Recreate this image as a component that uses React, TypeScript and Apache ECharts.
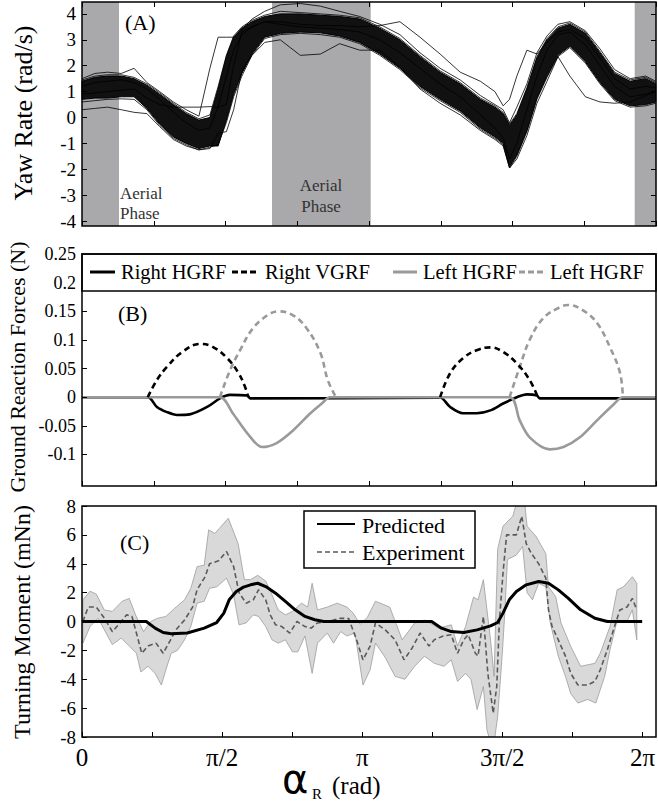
import React, { useEffect, useRef } from "react";
import * as echarts from "echarts";

type P = [number, number];

const SERIF = "'Liberation Serif', 'Times New Roman', serif";

// ---------- shared x axis (alpha_R, rad) ----------
const X_TICK_STEPS_PI = [0, 0.25, 0.5, 0.75, 1, 1.25, 1.5, 1.75, 2];
const X_LABEL_STEPS_PI = [0, 0.5, 1, 1.5, 2];
const X_LABELS = ["0", "π/2", "π", "3π/2", "2π"];

// ---------- Panel A : yaw rate ----------
const A_Y_MIN = -4.19;
const A_Y_MAX = 4.46;
const A_Y_TICKS = [-4, -3, -2, -1, 0, 1, 2, 3, 4];
const A_AERIAL: P[] = [[0, 0.405], [2.08, 3.16], [6.05, 6.2832]];
const A_X = [0, 0.14, 0.28, 0.43, 0.57, 0.71, 0.85, 1.0, 1.14, 1.28, 1.4, 1.49, 1.58, 1.66, 1.75, 1.86, 2.0, 2.17, 2.39, 2.61, 2.82, 3.04, 3.26, 3.48, 3.7, 3.92, 4.14, 4.36, 4.52, 4.61, 4.68, 4.76, 4.87, 4.98, 5.09, 5.21, 5.34, 5.51, 5.67, 5.83, 6.0, 6.17, 6.28];
const A_CORE_LOW = [0.7, 0.75, 0.75, 0.8, 0.8, 0.35, -0.25, -0.75, -1.0, -1.2, -1.1, -1.1, -0.1, 0.9, 1.7, 2.45, 3.1, 3.25, 3.3, 3.27, 3.15, 2.9, 2.45, 1.9, 1.2, 0.7, 0.25, -0.4, -0.75, -1.0, -1.9, -1.45, -0.5, 0.75, 1.6, 2.4, 2.75, 2.15, 1.35, 0.7, 0.45, 0.5, 0.6];
const A_CORE_HIGH = [1.4, 1.55, 1.6, 1.6, 1.5, 1.25, 0.9, 0.5, 0.15, -0.1, 0.0, 1.1, 2.35, 3.1, 3.45, 3.7, 3.9, 4.0, 4.0, 3.95, 3.9, 3.8, 3.45, 3.0, 2.35, 1.75, 1.3, 0.7, 0.4, 0.15, -0.3, 0.1, 1.1, 2.3, 3.0, 3.45, 3.6, 3.25, 2.5, 1.7, 1.4, 1.5, 1.3];
const A_TRACE_1 = [1.5, 1.7, 1.75, 1.7, 1.9, 1.35, 1.0, 0.6, 0.3, 0.05, 1.9, 3.1, 3.1, 3.1, 3.4, 3.8, 4.1, 4.35, 4.4, 4.3, 4.1, 3.9, 3.6, 3.2, 2.5, 1.9, 1.45, 0.85, 0.5, 0.3, -0.2, 0.4, 1.3, 2.5, 3.15, 3.6, 3.7, 3.35, 2.65, 1.85, 1.5, 1.6, 1.4];
const A_TRACE_2 = [0.3, 0.35, 0.4, 0.3, 0.2, 0.15, -0.35, -0.85, -1.1, -1.25, -1.2, -0.6, -0.55, 0.3, 1.8, 2.4, 2.9, 3.0, 2.4, 2.45, 2.85, 2.6, 2.6, 1.95, 1.1, 0.55, 0.1, -0.5, -0.85, -1.1, -1.95, -1.6, -0.7, 0.55, 1.4, 2.35, 1.6, 0.8, 0.6, 0.55, 0.6, 0.85, 1.0];
const A_TRACE_3 = [0.9, 0.95, 1.0, 1.05, 1.1, 0.75, 0.5, 0.4, 0.4, 0.4, 0.42, 0.4, 0.5, 2.0, 3.3, 3.5, 3.7, 3.6, 3.5, 3.45, 3.4, 3.3, 3.0, 2.5, 1.9, 1.3, 0.8, 0.1, -0.4, -0.8, -1.6, -1.0, 0.3, 1.6, 2.6, 3.2, 3.3, 2.8, 2.0, 1.2, 0.8, 0.9, 1.0];
const A_TRACE_4 = [1.2, 1.35, 1.4, 1.45, 1.35, 1.1, 0.7, 0.2, -0.2, -0.5, -0.4, 0.4, 1.6, 2.6, 3.2, 3.5, 3.7, 3.7, 3.6, 3.55, 3.55, 3.5, 3.55, 3.7, 3.1, 2.45, 1.75, 1.4, 1.0, 0.45, 0.7, 1.6, 2.6, 2.45, 2.9, 3.3, 3.4, 3.05, 2.3, 1.5, 1.1, 1.2, 1.15];
const A_TRACE_5 = [1.45, 1.6, 1.65, 1.65, 1.55, 1.3, 0.95, 0.55, 0.2, -0.05, 0.1, 1.2, 2.4, 3.15, 3.5, 3.75, 3.95, 4.1, 4.05, 4.0, 3.95, 3.85, 3.5, 3.05, 2.4, 1.8, 1.35, 0.75, 0.45, 0.2, -0.25, 0.15, 1.15, 2.35, 3.05, 3.5, 3.65, 3.3, 2.55, 1.75, 1.45, 1.55, 1.35];
const A_TRACE_6 = [0.6, 0.65, 0.7, 0.72, 0.7, 0.3, -0.3, -0.8, -1.05, -1.25, -1.15, -1.05, -0.2, 0.8, 1.6, 2.4, 3.05, 3.2, 3.25, 3.2, 3.1, 2.85, 2.4, 1.85, 1.15, 0.65, 0.2, -0.45, -0.8, -1.05, -1.95, -1.5, -0.55, 0.7, 1.55, 2.35, 2.7, 2.1, 1.3, 0.65, 0.4, 0.45, 0.55];
const A_TRACES = [A_TRACE_1, A_TRACE_2, A_TRACE_3, A_TRACE_4, A_TRACE_5, A_TRACE_6];

// ---------- Panel B : ground reaction forces ----------
const B_Y_MIN = -0.155;
const B_Y_MAX = 0.25;
const B_Y_TICKS = [-0.1, -0.05, 0, 0.05, 0.1, 0.15, 0.2, 0.25];
const B_RIGHT_HGRF: P[] = [[0, 0], [0.72, 0], [0.82, -0.017], [0.93, -0.026], [1.04, -0.031], [1.18, -0.03], [1.37, -0.017], [1.51, -0.002], [1.62, 0.004], [1.81, 0.003], [1.84, -0.002], [3.9, -0.001], [3.92, 0], [4.03, -0.017], [4.17, -0.028], [4.32, -0.028], [4.47, -0.023], [4.61, -0.011], [4.76, 0], [4.87, 0.005], [4.98, 0.003], [5.01, -0.002], [6.28, -0.002]];
const B_RIGHT_VGRF_1: P[] = [[0.72, 0], [0.82, 0.03], [0.93, 0.053], [1.09, 0.078], [1.29, 0.093], [1.43, 0.088], [1.59, 0.068], [1.71, 0.043], [1.78, 0.02], [1.82, 0]];
const B_RIGHT_VGRF_2: P[] = [[3.92, 0], [4.03, 0.042], [4.17, 0.068], [4.32, 0.082], [4.47, 0.087], [4.61, 0.079], [4.76, 0.059], [4.9, 0.03], [4.99, 0]];
const B_LEFT_HGRF: P[] = [[0, 0], [1.51, 0], [1.65, -0.028], [1.81, -0.063], [1.97, -0.087], [2.13, -0.08], [2.31, -0.058], [2.5, -0.028], [2.64, -0.009], [2.71, 0], [4.68, 0], [4.79, -0.04], [4.9, -0.07], [5.12, -0.091], [5.27, -0.087], [5.45, -0.07], [5.64, -0.04], [5.81, -0.014], [5.92, 0], [6.28, 0]];
const B_LEFT_VGRF_1: P[] = [[1.51, 0], [1.62, 0.047], [1.73, 0.082], [1.87, 0.12], [2.03, 0.143], [2.15, 0.15], [2.31, 0.143], [2.46, 0.12], [2.61, 0.077], [2.69, 0.03], [2.78, 0]];
const B_LEFT_VGRF_2: P[] = [[4.68, 0], [4.79, 0.052], [4.9, 0.1], [5.05, 0.138], [5.23, 0.157], [5.32, 0.161], [5.48, 0.152], [5.64, 0.129], [5.78, 0.087], [5.89, 0.042], [5.92, 0]];
const B_LEGEND = ["Right HGRF", "Right VGRF", "Left HGRF", "Left HGRF"];

// ---------- Panel C : turning moment ----------
const C_Y_TICKS = [-8, -6, -4, -2, 0, 2, 4, 6, 8];
const C_PREDICTED: P[] = [[0, 0], [0.72, 0], [0.82, -0.46], [0.91, -0.76], [1.0, -0.85], [1.18, -0.8], [1.37, -0.46], [1.51, -0.07], [1.59, 0.58], [1.65, 1.5], [1.73, 2.08], [1.81, 2.38], [1.89, 2.54], [1.97, 2.65], [2.06, 2.42], [2.17, 1.96], [2.28, 1.39], [2.39, 0.81], [2.5, 0.35], [2.61, 0.12], [2.71, 0], [3.92, 0], [4.03, -0.46], [4.14, -0.7], [4.28, -0.76], [4.43, -0.58], [4.58, -0.3], [4.66, -0.07], [4.72, 0.58], [4.79, 1.5], [4.87, 2.08], [4.98, 2.54], [5.12, 2.77], [5.23, 2.65], [5.34, 2.19], [5.45, 1.62], [5.59, 0.81], [5.75, 0.23], [5.89, 0], [6.28, 0]];
const C_EXP_MEAN: P[] = [[0.01, 0.0], [0.07, 1.0], [0.16, 1.0], [0.25, 0.23], [0.34, -0.7], [0.44, 0], [0.5, 0.46], [0.56, 0.35], [0.61, -0.8], [0.67, -2.2], [0.74, -1.7], [0.83, -1.5], [0.91, -2.2], [0.99, -1.3], [1.05, -0.6], [1.15, 0.1], [1.24, 1.0], [1.29, 2.2], [1.38, 3.1], [1.43, 4.0], [1.53, 4.2], [1.62, 4.85], [1.7, 3.8], [1.76, 2.0], [1.84, 1.27], [1.92, 1.5], [1.98, 2.2], [2.06, 1.5], [2.11, 0.46], [2.17, -0.23], [2.24, -0.35], [2.33, -0.8], [2.41, 0.0], [2.5, -0.35], [2.57, -0.46], [2.64, -0.1], [2.75, 0], [2.82, 0.1], [2.9, 0.23], [2.99, 0.2], [3.08, -1.3], [3.15, -2.65], [3.23, -1.7], [3.29, -0.1], [3.4, -0.58], [3.51, -1.27], [3.61, -2.65], [3.7, -1.85], [3.79, -0.8], [3.89, -1.7], [3.95, -1.27], [4.05, -1.0], [4.14, -0.92], [4.21, -2.2], [4.28, -1.27], [4.33, -0.92], [4.41, -2.2], [4.44, -2.4], [4.5, 0.35], [4.55, -3.6], [4.61, -6.35], [4.65, -4.5], [4.68, 0.1], [4.72, 3.35], [4.76, 6.0], [4.87, 6.0], [4.93, 7.3], [4.98, 5.4], [5.04, 4.7], [5.12, 4.0], [5.2, 3.0], [5.23, 0.8], [5.27, -0.35], [5.34, -1.27], [5.42, -2.4], [5.48, -3.6], [5.56, -4.4], [5.67, -4.4], [5.75, -4.15], [5.81, -3.35], [5.89, -1.95], [5.97, -0.35], [6.03, 0.8], [6.11, 1.0], [6.17, 1.6], [6.22, 0.8]];
const C_EXP_UPPER: P[] = [[0.01, 1.5], [0.09, 2.1], [0.16, 1.9], [0.25, 0.8], [0.34, 0.7], [0.45, 1.4], [0.53, 1.6], [0.6, 0.46], [0.69, -0.7], [0.77, 0], [0.85, 0.23], [0.94, 0.35], [1.04, 0.92], [1.15, 1.5], [1.22, 2.3], [1.29, 3.8], [1.37, 3.9], [1.42, 6.35], [1.49, 6.1], [1.54, 6.45], [1.64, 7.15], [1.75, 5.4], [1.82, 2.9], [1.89, 2.9], [1.97, 3.2], [2.06, 2.8], [2.13, 1.85], [2.2, 0.8], [2.28, 0.46], [2.36, 0.7], [2.46, 1.27], [2.53, 1.0], [2.58, 2.65], [2.64, 0.8], [2.75, 1.0], [2.86, 1.27], [2.97, 1.0], [3.04, 0.58], [3.12, -0.2], [3.2, 0.3], [3.29, 1.4], [3.45, 1.0], [3.59, -1.27], [3.73, -0.1], [3.84, 0.1], [4.0, -0.46], [4.14, -0.23], [4.21, -1.7], [4.3, -0.35], [4.39, 1.7], [4.44, 1.5], [4.5, 2.9], [4.58, -1.27], [4.62, -3.8], [4.66, 5.0], [4.72, 6.6], [4.83, 7.3], [4.88, 8.4], [4.96, 8.4], [4.99, 6.6], [5.09, 5.9], [5.2, 4.7], [5.23, 2.4], [5.31, 1.73], [5.37, -0.1], [5.48, -1.73], [5.59, -3.1], [5.75, -2.9], [5.81, -2.2], [5.92, -0.35], [6.0, 2.2], [6.07, 2.4], [6.17, 3.1], [6.22, 2.65]];
const C_EXP_LOWER: P[] = [[0.01, -1.5], [0.09, -0.35], [0.18, 0.23], [0.34, -1.6], [0.44, -1.15], [0.53, -1.7], [0.61, -2.2], [0.66, -3.5], [0.74, -3.1], [0.82, -3.6], [0.89, -4.4], [0.94, -3.35], [1.0, -2.2], [1.07, -2.0], [1.15, -1.27], [1.22, -0.35], [1.29, 1.27], [1.37, 1.4], [1.43, 2.3], [1.51, 2.4], [1.62, 3.0], [1.7, 1.85], [1.76, -0.23], [1.84, -0.1], [1.92, 0.46], [1.98, 0.35], [2.06, -0.35], [2.13, -1.27], [2.2, -1.5], [2.28, -1.27], [2.36, -2.1], [2.42, -2.1], [2.5, -1.0], [2.58, -3.6], [2.64, -1.5], [2.75, -0.8], [2.82, -1.5], [2.9, -0.7], [2.97, -1.0], [3.06, -0.8], [3.15, -4.4], [3.23, -3.35], [3.29, -1.5], [3.4, -2.5], [3.51, -3.8], [3.62, -4.0], [3.73, -3.1], [3.84, -2.4], [3.95, -2.9], [4.06, -3.1], [4.14, -2.65], [4.21, -4.15], [4.3, -3.6], [4.36, -4.0], [4.43, -6.1], [4.5, -4.5], [4.54, -7.5], [4.58, -8.4], [4.62, -8.4], [4.66, -6.6], [4.71, -2.4], [4.74, 0.58], [4.77, 4.3], [4.87, 4.6], [4.94, 5.2], [4.99, 2.0], [5.05, 1.5], [5.12, 2.65], [5.2, 2.4], [5.25, -0.1], [5.34, -2.4], [5.42, -3.8], [5.48, -5.0], [5.56, -5.65], [5.67, -5.4], [5.76, -5.65], [5.86, -3.8], [5.92, -1.95], [6.0, 0.1], [6.11, 0], [6.17, 0.8], [6.22, -1.27]];
const C_LEGEND = ["Predicted", "Experiment"];

// ---------- layout ----------
const GL = 82;
const GW = 574;
const GA = { top: 2, height: 224 };
const GB = { top: 254, height: 232 };
const GC = { top: 506, height: 231 };
const GRAY = "#9a9a9a";

function xAxisDef(gridIndex: number, position: "top" | "bottom", labels: boolean) {
  return {
    type: "value",
    gridIndex,
    position,
    min: 0,
    max: 2 * Math.PI,
    z: 10,
    axisLine: { show: false, onZero: false },
    splitLine: { show: false },
    axisTick: {
      show: true,
      inside: true,
      length: 5,
      lineStyle: { color: "#000", width: 1 },
      customValues: X_TICK_STEPS_PI.map((k) => k * Math.PI),
    },
    axisLabel: labels
      ? {
          show: true,
          customValues: X_LABEL_STEPS_PI.map((k) => k * Math.PI),
          formatter: (v: number) => X_LABELS[Math.round(v / (Math.PI / 2))],
          fontFamily: SERIF,
          fontSize: 25,
          color: "#000",
          margin: 8,
        }
      : { show: false },
  };
}

function yAxisDef(gridIndex: number, position: "left" | "right", min: number, max: number, ticks: number[], labels: boolean, fontSize = 18) {
  return {
    type: "value",
    gridIndex,
    position,
    min,
    max,
    z: 10,
    axisLine: { show: false, onZero: false },
    splitLine: { show: false },
    axisTick: {
      show: true,
      inside: true,
      length: 5,
      lineStyle: { color: "#000", width: 1 },
      customValues: ticks,
    },
    axisLabel: labels
      ? {
          show: true,
          customValues: ticks,
          fontFamily: SERIF,
          fontSize,
          color: "#000",
          margin: 6,
          showMinLabel: true,
          showMaxLabel: true,
        }
      : { show: false },
  };
}

function bandRender(upper: P[], lower: P[], style: any) {
  return (_params: any, api: any) => {
    const pts = upper.map((p) => api.coord(p)).concat(lower.slice().reverse().map((p) => api.coord(p)));
    return { type: "polygon", shape: { points: pts }, style };
  };
}

function line(name: string, axis: number, data: P[], color: string, width: number, dash: any, z: number, smooth: number | boolean = false) {
  return {
    type: "line",
    name,
    xAxisIndex: axis,
    yAxisIndex: axis,
    data,
    symbol: "none",
    smooth,
    z,
    lineStyle: { color, width, type: dash },
    emphasis: { disabled: true },
  };
}

function text(t: string, x: number, y: number, size: number, extra: any = {}) {
  const { style, ...rest } = extra;
  return {
    type: "text",
    x,
    y,
    z: 60,
    ...rest,
    style: {
      text: t,
      fontFamily: SERIF,
      fontSize: size,
      fill: "#000",
      align: "left",
      verticalAlign: "middle",
      ...(style || {}),
    },
  };
}

export default function App() {
  const ref = useRef<HTMLDivElement>(null);

  useEffect(() => {
    if (!ref.current) return;
    const chart = echarts.init(ref.current, undefined, { renderer: "svg" });

    const aUpper: P[] = A_X.map((x, i) => [x, A_CORE_HIGH[i]]);
    const aLower: P[] = A_X.map((x, i) => [x, A_CORE_LOW[i]]);

    const series: any[] = [
      {
        type: "custom",
        name: "Aerial phase",
        xAxisIndex: 0,
        yAxisIndex: 0,
        z: 1,
        data: A_AERIAL,
        renderItem: (_p: any, api: any) => {
          const a = api.coord([api.value(0), A_Y_MAX]);
          const b = api.coord([api.value(1), A_Y_MIN]);
          return {
            type: "rect",
            shape: { x: a[0], y: a[1], width: b[0] - a[0], height: b[1] - a[1] },
            style: { fill: "#a9a9ac" },
          };
        },
      },
      {
        type: "custom",
        name: "Yaw rate bundle",
        xAxisIndex: 0,
        yAxisIndex: 0,
        z: 2,
        data: [[0, 0]],
        renderItem: bandRender(aUpper, aLower, { fill: "#111", stroke: "#000", lineWidth: 1 }),
      },
      ...A_TRACES.map((tr, k) => line("Yaw rate " + (k + 1), 0, A_X.map((x, i) => [x, tr[i]] as P), "#000", 0.8, "solid", 3)),
      line("Right HGRF", 2, B_RIGHT_HGRF, "#000", 2.6, "solid", 3, 0.3),
      line("Left HGRF", 2, B_LEFT_HGRF, GRAY, 2.6, "solid", 4, 0.3),
      line("Left VGRF", 2, B_LEFT_VGRF_1, GRAY, 2.6, [6, 4], 5, 0.4),
      line("Left VGRF", 2, B_LEFT_VGRF_2, GRAY, 2.6, [6, 4], 5, 0.4),
      line("Right VGRF", 2, B_RIGHT_VGRF_1, "#000", 2.6, [6, 4], 6, 0.4),
      line("Right VGRF", 2, B_RIGHT_VGRF_2, "#000", 2.6, [6, 4], 6, 0.4),
      {
        type: "custom",
        name: "Experiment range",
        xAxisIndex: 3,
        yAxisIndex: 3,
        z: 2,
        clip: true,
        data: [[0, 0]],
        renderItem: bandRender(C_EXP_UPPER, C_EXP_LOWER, { fill: "#d9d9d9", stroke: "#9c9c9c", lineWidth: 0.8 }),
      },
      line("Experiment", 3, C_EXP_MEAN, "#5a5a5a", 1.6, [5, 3], 3),
      line("Predicted", 3, C_PREDICTED, "#000", 3, "solid", 4),
    ];

    const frames = [GA, GB, GC].map((g) => ({
      type: "rect",
      z: 100,
      silent: true,
      shape: { x: GL, y: g.top, width: GW, height: g.height },
      style: { fill: "none", stroke: "#000", lineWidth: 1.5 },
    }));

    const legendB: any[] = [
      { type: "rect", z: 50, shape: { x: GL, y: GB.top, width: GW, height: 37 }, style: { fill: "#fff", stroke: "#000", lineWidth: 1.5 } },
      { type: "line", z: 55, shape: { x1: 90, y1: 272, x2: 115, y2: 272 }, style: { stroke: "#000", lineWidth: 3 } },
      text(B_LEGEND[0], 121, 272, 20.5),
      { type: "line", z: 55, shape: { x1: 232, y1: 272, x2: 258, y2: 272 }, style: { stroke: "#000", lineWidth: 3, lineDash: [6, 3] } },
      text(B_LEGEND[1], 265, 272, 20.5),
      { type: "line", z: 55, shape: { x1: 393, y1: 272, x2: 417, y2: 272 }, style: { stroke: GRAY, lineWidth: 3 } },
      text(B_LEGEND[2], 423, 272, 20.5),
      { type: "line", z: 55, shape: { x1: 519, y1: 272, x2: 545, y2: 272 }, style: { stroke: GRAY, lineWidth: 3, lineDash: [6, 3] } },
      text(B_LEGEND[3], 550, 272, 20.5),
    ];

    const legendC: any[] = [
      { type: "rect", z: 50, shape: { x: 304, y: 511, width: 171, height: 57 }, style: { fill: "#fff", stroke: "#000", lineWidth: 1.5 } },
      { type: "line", z: 55, shape: { x1: 317, y1: 524, x2: 355, y2: 524 }, style: { stroke: "#000", lineWidth: 2 } },
      text(C_LEGEND[0], 362, 525, 22),
      { type: "line", z: 55, shape: { x1: 317, y1: 552, x2: 355, y2: 552 }, style: { stroke: "#5a5a5a", lineWidth: 1.5, lineDash: [5, 3] } },
      text(C_LEGEND[1], 362, 552, 22),
    ];

    const labels: any[] = [
      text("(A)", 125, 22, 22),
      text("(B)", 118, 313, 22),
      text("(C)", 120, 542, 22),
      text("Aerial\nPhase", 120, 203, 17, { style: { fill: "#333", lineHeight: 20 } }),
      text("Aerial\nPhase", 321, 196, 17, { style: { fill: "#333", lineHeight: 21, align: "center" } }),
      text("Yaw Rate (rad/s)", 23, 113, 26, { rotation: Math.PI / 2, style: { align: "center" } }),
      text("Ground Reaction Forces (N)", 17, 367, 22, { rotation: Math.PI / 2, style: { align: "center" } }),
      text("Turning Moment (mNn)", 22, 622, 24, { rotation: Math.PI / 2, style: { align: "center" } }),
      text("α", 282, 779, 40, { style: { fontFamily: "'DejaVu Sans', sans-serif" } }),
      text("R", 312, 794, 15),
      text("(rad)", 332, 785, 25),
    ];

    chart.setOption({
      animation: false,
      backgroundColor: "#fff",
      grid: [
        { left: GL, width: GW, top: GA.top, height: GA.height, show: false },
        { left: GL, width: GW, top: GB.top, height: GB.height, show: false },
        { left: GL, width: GW, top: GC.top, height: GC.height, show: false },
      ],
      xAxis: [
        xAxisDef(0, "bottom", false),
        xAxisDef(0, "top", false),
        xAxisDef(1, "bottom", false),
        xAxisDef(2, "bottom", true),
      ],
      yAxis: [
        yAxisDef(0, "left", A_Y_MIN, A_Y_MAX, A_Y_TICKS, true, 19),
        yAxisDef(0, "right", A_Y_MIN, A_Y_MAX, A_Y_TICKS, false),
        yAxisDef(1, "left", B_Y_MIN, B_Y_MAX, B_Y_TICKS, true, 18),
        yAxisDef(2, "left", -8, 8, C_Y_TICKS, true, 19),
      ],
      series,
      graphic: [...frames, ...legendB, ...legendC, ...labels],
    });

    return () => chart.dispose();
  }, []);

  return <div ref={ref} style={{ position: "absolute", left: 0, top: 0, width: 658, height: 804 }} />;
}
